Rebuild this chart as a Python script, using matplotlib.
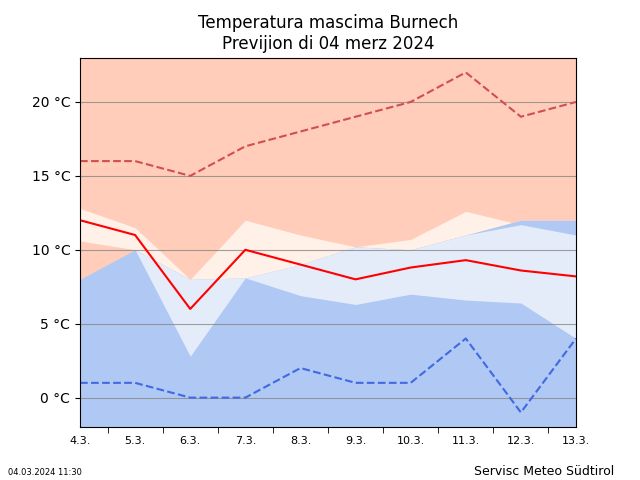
import numpy as np
import matplotlib.pyplot as plt

days = ["4.3.", "5.3.", "6.3.", "7.3.", "8.3.", "9.3.", "10.3.", "11.3.", "12.3.", "13.3."]
t_mean = [12, 11, 6, 10, 9, 8, 8.8, 9.3, 8.6, 8.2]
t_max = [16, 16, 15, 17, 18, 19, 20, 22, 19, 20]
t_min = [1, 1, 0, 0, 2, 1, 1, 4, -1, 4]
red_hi = [12.8, 11.5, 8, 12, 11, 10.2, 10.7, 12.6, 11.7, 11]
red_lo = [10.6, 10, 8, 8, 9, 10.2, 10, 11, 12, 12]
blue_top = [8, 10, 8, 8.1, 9, 10.2, 10, 11, 12, 12]
blue_hi = [8, 10, 8, 8.1, 9, 10.2, 10, 11, 11.7, 11]
blue_lo = [8, 10, 2.8, 8.1, 6.9, 6.3, 7, 6.6, 6.4, 4]

x = np.arange(len(days))
fig = plt.figure(figsize=(6.4, 4.8), dpi=100)
ax = fig.add_axes([0.125, 0.11, 0.775, 0.77])
ax.set_facecolor("#FFCDB9")
ax.fill_between(x, red_lo, red_hi, color="#FFF0E8", lw=0)
ax.fill_between(x, -5, blue_top, color="#B0C8F4", lw=0)
ax.fill_between(x, blue_lo, blue_hi, color="#E4ECFA", lw=0)
for yv in [0, 5, 10, 15, 20]:
    ax.axhline(yv, color="#888888", lw=0.8, alpha=0.8)
ax.plot(x, t_max, "--", color="#D05050", lw=1.5)
ax.plot(x, t_min, "--", color="#4169E1", lw=1.5)
ax.plot(x, t_mean, color="red", lw=1.5)
ax.set_xlim(0, 9)
ax.set_ylim(-2, 23)
ax.set_xticks(x)
ax.set_xticklabels(days, fontsize=8)
ax.tick_params(axis="x", which="major", length=0, pad=6)
ax.set_xticks(x[:-1] + 0.5, minor=True)
ax.tick_params(axis="x", which="minor", length=4)
ax.set_yticks([0, 5, 10, 15, 20])
ax.set_yticklabels([f"{v} °C" for v in [0, 5, 10, 15, 20]])
ax.set_title("Temperatura mascima Burnech\nPrevijion di 04 merz 2024")
fig.text(0.0125, 0.01, "04.03.2024 11:30", fontsize=6)
fig.text(0.96, 0.01, "Servisc Meteo Südtirol", fontsize=9, ha="right")
fig.savefig("out.png")
